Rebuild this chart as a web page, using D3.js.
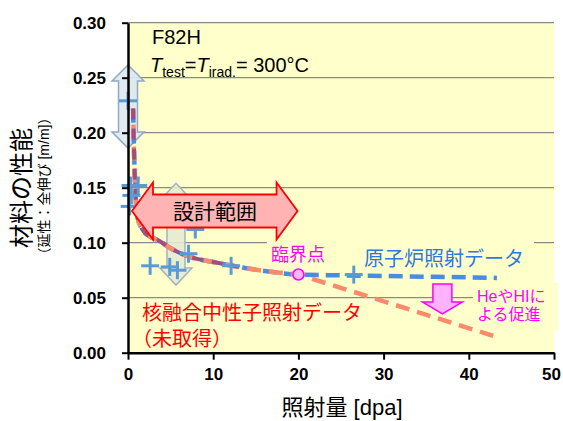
<!DOCTYPE html>
<html><head><meta charset="utf-8">
<script src="https://cdn.jsdelivr.net/npm/d3@7/dist/d3.min.js"></script>
<style>body{margin:0;background:#fff}</style>
</head><body>
<svg id="c" width="563" height="421"></svg>
<script>
// ---- data ----
const xTicks = [0, 10, 20, 30, 40, 50];
const yTicks = [0, 0.05, 0.10, 0.15, 0.20, 0.25, 0.30];
// reactor irradiation data points (dpa, total elongation)
const ptsX = [0, 0.3, 1.2, 0.4, 0.2, 2.6, 4.9, 5.8, 7.1, 7.9, 12.1, 26.5];
const ptsY = [0.229, 0.152, 0.152, 0.143, 0.133, 0.079, 0.078, 0.075, 0.090, 0.112, 0.079, 0.071];
// common trend curve up to the critical point
const curveX = [0.6, 0.7, 0.85, 1.1, 1.6, 2.5, 3.5, 5, 7.3, 10, 13, 16, 20];
const curveY = [0.222, 0.185, 0.150, 0.124, 0.113, 0.106, 0.1025, 0.095, 0.087, 0.0825, 0.078, 0.0743, 0.0711];
// reactor trend after the critical point
const reactorX = [20, 25, 30, 36, 43.3];
const reactorY = [0.0711, 0.0703, 0.0697, 0.069, 0.068];
// fusion neutron trend after the critical point
const fusionX = [20, 43.6];
const fusionY = [0.0711, 0.0135];
const critX = [20], critY = [0.0711];

const LAT = "'Liberation Sans', Arial, 'Noto Sans CJK JP', sans-serif";
const svg = d3.select('#c');
const L = 128, R = 554, T = 22.7, B = 352.7;
const x = d3.scaleLinear().domain([0, 50]).range([L, R]);
const y = d3.scaleLinear().domain([0, 0.3]).range([B, T]);

svg.append('rect').attr('x', L).attr('y', T).attr('width', R - L).attr('height', B - T).attr('fill', '#ffffcc');

// grid
svg.append('g').selectAll('line').data(yTicks.filter(d => d > 0)).join('line')
  .attr('x1', L).attr('x2', R).attr('y1', d => y(d)).attr('y2', d => y(d))
  .attr('stroke', '#8a8a8a').attr('stroke-width', 1.2);

// text boxes hiding grid
svg.append('rect').attr('x', 267).attr('y', 236).attr('width', 267).attr('height', 11).attr('fill', '#ffffcc');
svg.append('rect').attr('x', 473).attr('y', 283).attr('width', 85).attr('height', 48).attr('fill', '#ffffcc');

// arrow helpers
function vDouble(cx, y1, y2, bw, hw, hh) {
  return `M${cx},${y1}L${cx + hw / 2},${y1 + hh}L${cx + bw / 2},${y1 + hh}L${cx + bw / 2},${y2 - hh}L${cx + hw / 2},${y2 - hh}L${cx},${y2}L${cx - hw / 2},${y2 - hh}L${cx - bw / 2},${y2 - hh}L${cx - bw / 2},${y1 + hh}L${cx - hw / 2},${y1 + hh}Z`;
}
function hDouble(x1, x2, cy, bh, hh, hl) {
  return `M${x1},${cy}L${x1 + hl},${cy - hh / 2}L${x1 + hl},${cy - bh / 2}L${x2 - hl},${cy - bh / 2}L${x2 - hl},${cy - hh / 2}L${x2},${cy}L${x2 - hl},${cy + hh / 2}L${x2 - hl},${cy + bh / 2}L${x1 + hl},${cy + bh / 2}L${x1 + hl},${cy + hh / 2}Z`;
}
function vDown(cx, y1, y2, bw, hw, hh) {
  return `M${cx - bw / 2},${y1}L${cx + bw / 2},${y1}L${cx + bw / 2},${y2 - hh}L${cx + hw / 2},${y2 - hh}L${cx},${y2}L${cx - hw / 2},${y2 - hh}L${cx - bw / 2},${y2 - hh}Z`;
}

// shaded scatter-range arrows
svg.append('path').attr('d', vDouble(x(0), y(0.2615), y(0.186), 19, 32, 16))
  .attr('fill', '#dde8f0').attr('fill-opacity', 0.9).attr('stroke', '#8fa9c7').attr('stroke-width', 1.5);
svg.append('path').attr('d', vDouble(x(5.63), y(0.154), y(0.0615), 18, 32, 17))
  .attr('fill', '#e3ebd2').attr('fill-opacity', 0.9).attr('stroke', '#a3b3c2').attr('stroke-width', 1.5);

// lines
const line = d3.line().x(d => x(d[0])).y(d => y(d[1])).curve(d3.curveMonotoneX);
const common = curveX.map((v, i) => [v, curveY[i]]);
const reactor = reactorX.map((v, i) => [v, reactorY[i]]);
const fusion = fusionX.map((v, i) => [v, fusionY[i]]);

svg.append('path').attr('d', line(common.concat(reactor.slice(1))))
  .attr('fill', 'none').attr('stroke', '#4a8ce4').attr('stroke-width', 4.5).attr('stroke-dasharray', '14,7');
svg.append('path').attr('d', line(common) + 'L' + x(fusionX[1]) + ',' + y(fusionY[1]))
  .attr('fill', 'none').attr('stroke', '#fa8a6c').attr('stroke-width', 4.5).attr('stroke-dasharray', '14,8')
  .attr('stroke-dashoffset', 6);
svg.append('path').attr('d', line(common.filter(d => d[0] <= 13)))
  .attr('fill', 'none').attr('stroke', '#9c4f80').attr('stroke-width', 4).attr('stroke-dasharray', '11,9');

// markers
const pts = ptsX.map((v, i) => [v, ptsY[i]]);
const mk = svg.append('g').attr('stroke', '#5b9bd5').attr('stroke-width', 3);
mk.selectAll('.h').data(pts).join('line').attr('x1', d => x(d[0]) - 9).attr('x2', d => x(d[0]) + 9)
  .attr('y1', d => y(d[1])).attr('y2', d => y(d[1]));
mk.selectAll('.v').data(pts).join('line').attr('y1', d => y(d[1]) - 9).attr('y2', d => y(d[1]) + 9)
  .attr('x1', d => x(d[0])).attr('x2', d => x(d[0]));

// critical point
svg.selectAll('.crit').data(critX.map((v, i) => [v, critY[i]])).join('circle')
  .attr('cx', d => x(d[0])).attr('cy', d => y(d[1])).attr('r', 5.5)
  .attr('fill', '#ffb6f5').attr('stroke', '#ff00ff').attr('stroke-width', 1.5);

// design range arrow
svg.append('path').attr('d', hDouble(x(0.47), x(19.9), y(0.1288), 33, 57, 21))
  .attr('fill', '#ffb3b3').attr('stroke', '#ff0000').attr('stroke-width', 1.8);
svg.append('text').attr('x', 215).attr('y', 219).attr('text-anchor', 'middle')
  .attr('font-family', LAT).attr('font-size', 21).attr('fill', '#000').text('設計範囲');

// He/H acceleration arrow
svg.append('path').attr('d', vDown(x(36.9), y(0.0625), y(0.0352), 19, 40, 12))
  .attr('fill', '#ffb3ff').attr('stroke', '#ff00ff').attr('stroke-width', 1.5);

// axes
const yAxis = d3.axisLeft(y).tickValues(yTicks).tickFormat(d3.format('.2f')).tickSize(6).tickSizeOuter(0).tickPadding(16);
const gy = svg.append('g').attr('transform', `translate(${L},0)`).call(yAxis);
const xAxis = d3.axisBottom(x).tickValues(xTicks).tickFormat(d3.format('d')).tickSize(7).tickSizeOuter(0).tickPadding(8);
const gx = svg.append('g').attr('transform', `translate(0,${B})`).call(xAxis);
[gx, gy].forEach(g => {
  g.select('.domain').attr('stroke', '#000').attr('stroke-width', 2.5);
  g.selectAll('.tick line').attr('stroke', '#000').attr('stroke-width', 2);
  g.selectAll('.tick text').attr('fill', '#000').attr('font-family', LAT).attr('font-weight', 'bold');
});
gy.selectAll('.tick text').attr('font-size', 17);
gx.selectAll('.tick text').attr('font-size', 17);
gx.selectAll('.tick text').filter(d => d === 50).attr('dx', -3);

// axis titles
svg.append('text').attr('x', 342).attr('y', 415).attr('text-anchor', 'middle')
  .attr('font-family', LAT).attr('font-size', 22).attr('fill', '#000').text('照射量 [dpa]');
svg.append('text').attr('transform', 'translate(30,188) rotate(-90)').attr('text-anchor', 'middle')
  .attr('font-family', LAT).attr('font-size', 24).attr('fill', '#000').text('材料の性能');
svg.append('text').attr('transform', 'translate(49,186) rotate(-90)').attr('text-anchor', 'middle')
  .attr('font-family', LAT).attr('font-size', 14).attr('fill', '#000').text('（延性：全伸び [m/m]）');

// annotations
svg.append('text').attr('x', 152).attr('y', 44).attr('font-family', LAT).attr('font-size', 20).attr('fill', '#000').text('F82H');
const tt = svg.append('text').attr('x', 150).attr('y', 72).attr('font-family', LAT).attr('font-size', 20).attr('fill', '#000');
tt.append('tspan').attr('font-style', 'italic').text('T');
tt.append('tspan').attr('font-size', 14).attr('dy', 5).text('test');
tt.append('tspan').attr('dy', -5).text('=');
tt.append('tspan').attr('font-style', 'italic').text('T');
tt.append('tspan').attr('font-size', 14).attr('dy', 5).text('irad.');
tt.append('tspan').attr('dy', -5).text('= 300°C');

svg.append('text').attr('x', 271).attr('y', 261).attr('font-family', LAT).attr('font-size', 18).attr('fill', '#ff00ff').text('臨界点');
svg.append('text').attr('x', 364).attr('y', 266).attr('font-family', LAT).attr('font-size', 20).attr('fill', '#2f78dc').text('原子炉照射データ');
svg.append('text').attr('x', 477).attr('y', 302).attr('font-family', LAT).attr('font-size', 16).attr('fill', '#ff00ff').text('HeやHIに');
svg.append('text').attr('x', 477).attr('y', 320).attr('font-family', LAT).attr('font-size', 16).attr('fill', '#ff00ff').text('よる促進');
svg.append('text').attr('x', 142).attr('y', 320).attr('font-family', LAT).attr('font-size', 20).attr('fill', '#ff0000').text('核融合中性子照射データ');
svg.append('text').attr('x', 132).attr('y', 346).attr('font-family', LAT).attr('font-size', 20).attr('fill', '#ff0000').text('（未取得）');
</script>
</body></html>
